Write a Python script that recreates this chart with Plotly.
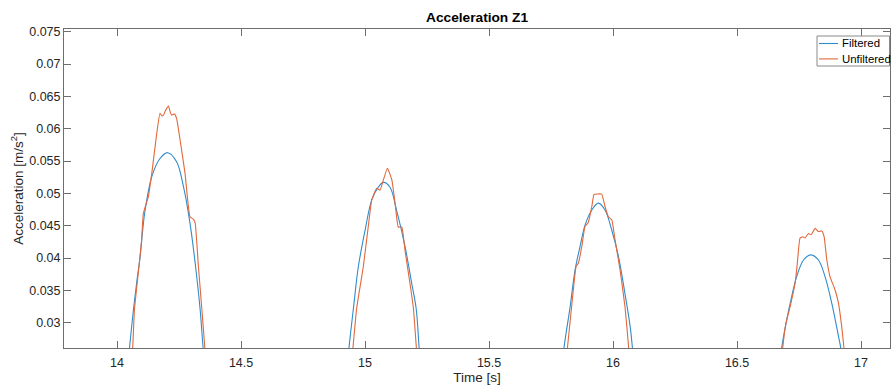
import plotly.graph_objects as go

# ---- data ----
time_filtered = [
    14.033, 14.050, 14.066, 14.080, 14.093, 14.103, 14.113, 14.140, 14.173, 14.204, 14.240, 14.268, 14.294, 14.315, 14.335, 14.347, 14.362,
    14.920, 14.935, 14.953, 14.973, 15.000, 15.027, 15.054, 15.074, 15.100, 15.127, 15.161, 15.188, 15.206, 15.218, 15.230,
    15.785, 15.802, 15.827, 15.847, 15.867, 15.887, 15.914, 15.941, 15.968, 15.995, 16.022, 16.048, 16.069, 16.078, 16.090,
    16.665, 16.680, 16.700, 16.720, 16.740, 16.768, 16.797, 16.828, 16.855, 16.882, 16.909, 16.918, 16.932,
]
acc_filtered = [
    0.0200, 0.0261, 0.0320, 0.0365, 0.0402, 0.0442, 0.0474, 0.0526, 0.0554, 0.0563, 0.0549, 0.0510, 0.0454, 0.0392, 0.0320, 0.0261, 0.0200,
    0.0200, 0.0261, 0.0322, 0.0387, 0.0443, 0.0490, 0.0510, 0.0517, 0.0510, 0.0474, 0.0418, 0.0361, 0.0322, 0.0261, 0.0200,
    0.0200, 0.0261, 0.0325, 0.0382, 0.0418, 0.0451, 0.0474, 0.0485, 0.0474, 0.0443, 0.0402, 0.0345, 0.0294, 0.0261, 0.0200,
    0.0200, 0.0261, 0.0304, 0.0340, 0.0371, 0.0397, 0.0405, 0.0397, 0.0371, 0.0330, 0.0279, 0.0261, 0.0200,
]

time_unfiltered = [
    14.050, 14.063, 14.070, 14.085, 14.099, 14.106, 14.126, 14.140, 14.160, 14.173, 14.180, 14.187, 14.195, 14.207, 14.215, 14.220,
    14.231, 14.240, 14.254, 14.274, 14.294, 14.308, 14.315, 14.328, 14.342, 14.354, 14.365,
    14.935, 14.951, 14.966, 14.993, 15.013, 15.027, 15.047, 15.060, 15.074, 15.090, 15.108, 15.121, 15.134, 15.148, 15.161, 15.181,
    15.195, 15.207, 15.220,
    15.800, 15.816, 15.833, 15.851, 15.860, 15.874, 15.887, 15.900, 15.914, 15.923, 15.937, 15.954, 15.968, 15.981, 15.995, 16.008,
    16.028, 16.048, 16.063, 16.075,
    16.670, 16.684, 16.697, 16.714, 16.734, 16.743, 16.754, 16.765, 16.774, 16.788, 16.798, 16.815, 16.828, 16.842, 16.851, 16.862,
    16.875, 16.895, 16.909, 16.922, 16.931, 16.942,
]
acc_unfiltered = [
    0.0200, 0.0261, 0.0320, 0.0375, 0.0428, 0.0469, 0.0495, 0.0531, 0.0593, 0.0624, 0.0620, 0.0621, 0.0628, 0.0635, 0.0625, 0.0621,
    0.0623, 0.0616, 0.0583, 0.0531, 0.0464, 0.0460, 0.0454, 0.0387, 0.0320, 0.0261, 0.0200,
    0.0200, 0.0261, 0.0322, 0.0387, 0.0449, 0.0490, 0.0508, 0.0505, 0.0521, 0.0539, 0.0521, 0.0485, 0.0448, 0.0448, 0.0412, 0.0361,
    0.0322, 0.0261, 0.0200,
    0.0200, 0.0261, 0.0325, 0.0387, 0.0392, 0.0418, 0.0449, 0.0455, 0.0479, 0.0498, 0.0499, 0.0499, 0.0479, 0.0464, 0.0459, 0.0428,
    0.0382, 0.0325, 0.0261, 0.0200,
    0.0200, 0.0261, 0.0299, 0.0325, 0.0361, 0.0392, 0.0431, 0.0433, 0.0431, 0.0438, 0.0436, 0.0446, 0.0441, 0.0442, 0.0433, 0.0397,
    0.0371, 0.0351, 0.0330, 0.0294, 0.0261, 0.0200,
]

x_ticks = [14, 14.5, 15, 15.5, 16, 16.5, 17]
x_tick_labels = ["14", "14.5", "15", "15.5", "16", "16.5", "17"]
y_ticks = [0.03, 0.035, 0.04, 0.045, 0.05, 0.055, 0.06, 0.065, 0.07, 0.075]
y_tick_labels = ["0.03", "0.035", "0.04", "0.045", "0.05", "0.055", "0.06", "0.065", "0.07", "0.075"]

series_names = ["Filtered", "Unfiltered"]
series_colors = ["#2f8ccb", "#e2683c"]
title_text = "Acceleration Z1"
x_title = "Time [s]"
y_title = "Acceleration [m/s<sup>2</sup>]"

FONT = "Liberation Sans, Arial, Helvetica, sans-serif"
TXT = "#262626"
AX = "#6e6e6e"

W, H = 891, 387
ML, MR, MT, MB = 64, 1, 29, 39
PW, PH = W - ML - MR, H - MT - MB


def px_x(p):
    return (p - ML) / PW


def px_y(p):
    return 1 - (p - MT) / PH


fig = go.Figure()
fig.add_trace(go.Scatter(x=time_filtered, y=acc_filtered, mode="lines", name=series_names[0],
                         line=dict(color=series_colors[0], width=1.1, shape="spline", smoothing=1.0)))
fig.add_trace(go.Scatter(x=time_unfiltered, y=acc_unfiltered, mode="lines", name=series_names[1],
                         line=dict(color=series_colors[1], width=1.1, shape="spline", smoothing=0.4)))

axis_common = dict(showline=True, linecolor=AX, linewidth=1, mirror="ticks", ticks="inside",
                   ticklen=7, tickwidth=1, tickcolor=AX, showgrid=False, zeroline=False,
                   tickfont=dict(family=FONT, size=12.5, color=TXT))

fig.update_xaxes(range=[13.786, 17.1167], tickmode="array", tickvals=x_ticks, ticktext=x_tick_labels,
                 ticklabelstandoff=3,
                 title=dict(text=x_title, font=dict(family=FONT, size=13.5, color=TXT), standoff=0),
                 **axis_common)
fig.update_yaxes(range=[0.02609, 0.07543], tickmode="array", tickvals=y_ticks, ticktext=y_tick_labels,
                 title=dict(text=y_title, font=dict(family=FONT, size=13.5, color=TXT), standoff=2),
                 **axis_common)

# legend drawn as a MATLAB-style box
shapes = [dict(type="rect", xref="paper", yref="paper",
               x0=px_x(817), x1=px_x(889.5), y0=px_y(66), y1=px_y(36),
               line=dict(color="#8a8a8a", width=1), fillcolor="white", layer="above")]
annotations = []
for i, (name, col) in enumerate(zip(series_names, series_colors)):
    yy = 43.5 + i * 15.4
    shapes.append(dict(type="line", xref="paper", yref="paper",
                       x0=px_x(819), x1=px_x(838), y0=px_y(yy), y1=px_y(yy),
                       line=dict(color=col, width=1.1), layer="above"))
    annotations.append(dict(text=name, xref="paper", yref="paper", x=px_x(840), y=px_y(yy),
                            xanchor="left", yanchor="middle", showarrow=False,
                            font=dict(family=FONT, size=11.4, color="#000000")))

fig.update_layout(
    width=W, height=H,
    margin=dict(l=ML, r=MR, t=MT, b=MB),
    paper_bgcolor="white", plot_bgcolor="white",
    title=dict(text="<b>" + title_text + "</b>", x=0.5354, xanchor="center", xref="container",
               y=0.955, yanchor="middle", yref="container",
               font=dict(family=FONT, size=13.7, color="#000000")),
    showlegend=False,
    shapes=shapes,
    annotations=annotations,
)

fig.write_html("out.html")
